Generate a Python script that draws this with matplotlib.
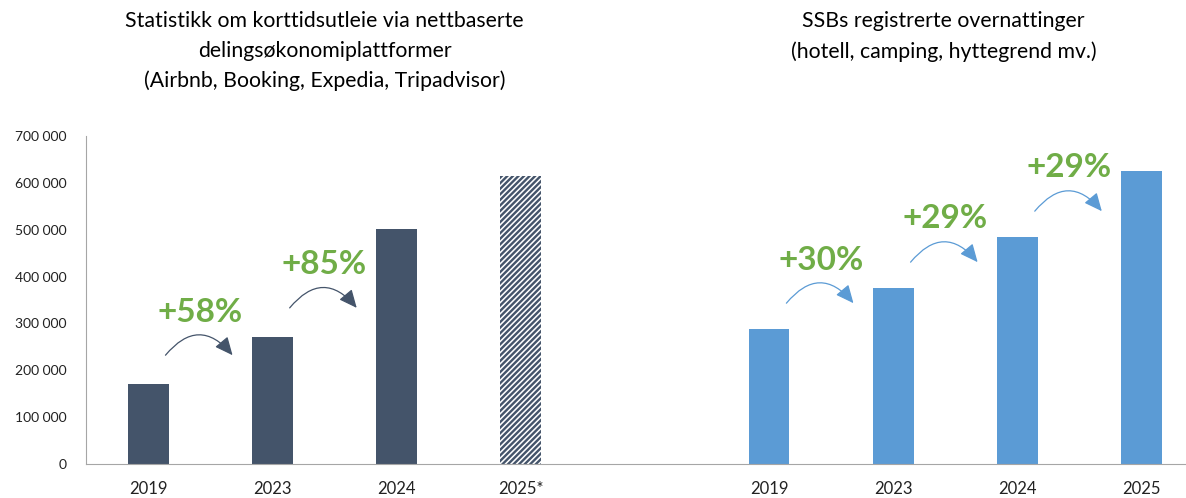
import numpy as np
import matplotlib.pyplot as plt
from matplotlib.ticker import FuncFormatter

plt.rcParams['font.family'] = ['Lato', 'DejaVu Sans']
plt.rcParams['hatch.linewidth'] = 1.7

# data
years_left = ['2019', '2023', '2024', '2025*']
airbnb = [170400, 271200, 501900, 613500]
years_right = ['2019', '2023', '2024', '2025']
ssb = [288200, 375600, 484200, 624800]
growth_left = ['+58%', '+85%']
growth_right = ['+30%', '+29%', '+29%']

title_left = 'Statistikk om korttidsutleie via nettbaserte\ndelingsøkonomiplattformer\n(Airbnb, Booking, Expedia, Tripadvisor)'
title_right = 'SSBs registrerte overnattinger\n(hotell, camping, hyttegrend mv.)'

navy = '#44546A'
blue = '#5B9BD5'
green = '#70AD47'

fig = plt.figure(figsize=(11.86, 4.98), dpi=100)
ax = fig.add_axes([86/1186, 33.7/498, 1 - 86/1186, 328.6/498])

xl = np.arange(len(years_left))
xr = np.arange(len(years_right)) + len(years_left) + 1
w = 0.33

# left group: last one is an estimate -> hatched
ax.bar(xl[:-1], airbnb[:-1], width=w, color=navy, linewidth=0)
ax.bar(xl[-1:], airbnb[-1:], width=w, color='white', edgecolor=navy,
       hatch='//////', linewidth=0)
ax.bar(xr, ssb, width=w, color=blue, linewidth=0)


def growth_arrow(x0, y0, label, col):
    ax.annotate('', xy=(x0 + 0.68, y0), xytext=(x0 + 0.14, y0),
                arrowprops=dict(arrowstyle='-|>,head_length=0.55,head_width=0.25',
                                connectionstyle='arc3,rad=-0.6', color=col,
                                lw=0.9, shrinkA=0, shrinkB=0, mutation_scale=20))
    ax.text(x0 + 0.42, y0 + 92000, label, color=green, fontsize=24,
            fontweight='bold', ha='center', va='center')


for i, lab in enumerate(growth_left):
    growth_arrow(xl[i], airbnb[i] + 62000, lab, navy)
for i, lab in enumerate(growth_right):
    growth_arrow(xr[i], ssb[i] + 55000, lab, blue)

ax.set_xlim(-0.5, 8.358)
ax.set_ylim(0, 700000)
ax.set_yticks(np.arange(0, 700001, 100000))
ax.yaxis.set_major_formatter(FuncFormatter(lambda v, p: f'{v:,.0f}'.replace(',', ' ')))
ax.set_xticks(list(xl) + list(xr))
ax.set_xticklabels(years_left + years_right)
ax.tick_params(axis='y', length=0, pad=14, labelsize=10, labelcolor='#222222')
ax.tick_params(axis='x', length=0, pad=12, labelsize=12, labelcolor='#222222')
for s in ['top', 'right']:
    ax.spines[s].set_visible(False)
ax.spines['left'].set_color('#A6A6A6')
ax.spines['bottom'].set_color('#A6A6A6')

fig.text(324.5/1186, 1 - 11/498, title_left, ha='center', va='top', fontsize=15.3,
         linespacing=1.6, color='black')
fig.text(943.5/1186, 1 - 11/498, title_right, ha='center', va='top', fontsize=15.3,
         linespacing=1.6, color='black')

fig.savefig('out.png', dpi=100)
